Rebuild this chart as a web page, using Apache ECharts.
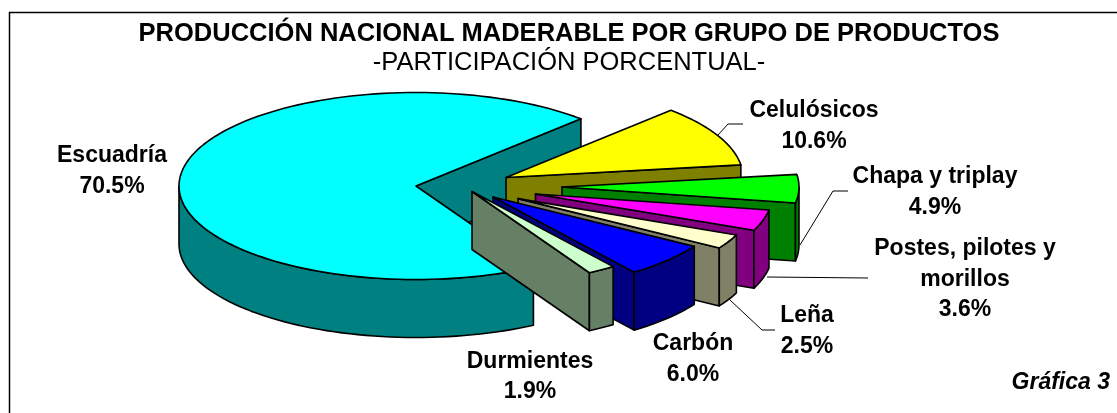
<!DOCTYPE html>
<html>
<head>
<meta charset="utf-8">
<style>html,body{margin:0;padding:0;background:#fff}#c{width:1117px;height:413px}</style>
<script src="https://cdn.jsdelivr.net/npm/echarts@6/dist/echarts.min.js"></script>
</head>
<body>
<div id="c"></div>
<script>
// ---- data ----
var categories = ['Escuadría','Celulósicos','Chapa y triplay','Postes, pilotes y\nmorillos','Leña','Carbón','Durmientes'];
var shares = [70.5,10.6,4.9,3.6,2.5,6.0,1.9];
var titleText = 'PRODUCCIÓN NACIONAL MADERABLE POR GRUPO DE PRODUCTOS';
var subtitleText = '-PARTICIPACIÓN PORCENTUAL-';
var noteText = 'Gráfica 3';

// ---- styling and layout of the exploded 3D pie ----
var topColors  = ['#00FFFF','#FFFF00','#00FF00','#FF00FF','#FFFFCC','#0000FF','#CCFFCC'];
var sideColors = ['#008080','#808000','#008000','#800080','#808066','#000080','#668066'];
var explodeX = [0,90,146,119.5,102,77,56];
var explodeY = [0,-8.5,1,8,12.6,11,5.5];
var labelX = [112,814,935,965,807,693,530];
var labelY = [171,126,192,279.5,331,359,376.5];
var leaders = [null,[[718,135],[728,124],[743,124]],[[800,245],[833,191],[848,191]],[[767,277],[868,278]],[[730,300],[762,330],[775,330]],null,null];
var pie = {cx:416, cy:186, rx:237, ry:93.5, depth:58, start:60.3};

function project(deg, ox, oy){
  var a = deg*Math.PI/180;
  return [pie.cx + ox + pie.rx*Math.cos(a), pie.cy + oy + pie.ry*Math.sin(a)];
}
function down(p){ return [p[0], p[1]+pie.depth]; }
function arc(a0,a1,ox,oy){
  var pts=[], n=Math.max(2,Math.ceil((a1-a0)/2));
  for(var i=0;i<=n;i++) pts.push(project(a0+(a1-a0)*i/n,ox,oy));
  return pts;
}
var total = shares.reduce(function(p,v){return p+v;},0);
var stroke = {stroke:'#000',lineWidth:1.6,lineJoin:'round'};
function poly(pts,fill){
  return {type:'polygon',shape:{points:pts},style:Object.assign({fill:fill},stroke)};
}
function renderSlice(params,api){
  var i = params.dataIndex, before = 0;
  for(var k=0;k<i;k++) before += shares[k];
  var a0 = pie.start + before/total*360;
  var a1 = a0 + api.value(0)/total*360;
  if(a0>=180){ a0-=360; a1-=360; }
  var ox = explodeX[i], oy = explodeY[i];
  var tip = [pie.cx+ox, pie.cy+oy];
  var kids = [];
  // side wall at the end of the sweep
  var endP = project(a1,ox,oy);
  kids.push(poly([tip,endP,down(endP),down(tip)],sideColors[i]));
  // outer wall: only the part of the rim that faces the viewer
  var f0 = Math.max(a0,0), f1 = Math.min(a1,180);
  if(f1>f0){
    var rim = arc(f0,f1,ox,oy);
    kids.push(poly(rim.concat(rim.slice().reverse().map(down)),sideColors[i]));
  }
  // top face
  kids.push(poly([tip].concat(arc(a0,a1,ox,oy)),topColors[i]));
  // leader line
  if(leaders[i]){
    kids.push({type:'polyline',shape:{points:leaders[i]},style:{fill:null,stroke:'#000',lineWidth:1}});
  }
  // label
  kids.push({type:'text',style:{
    x:labelX[i],y:labelY[i],text:categories[i]+'\n'+api.value(0).toFixed(1)+'%',
    font:'bold 23px "Liberation Sans", Arial, sans-serif',fill:'#000',
    align:'center',verticalAlign:'middle',lineHeight:30.5
  }});
  return {type:'group',children:kids};
}
var chart = echarts.init(document.getElementById('c'),null,{renderer:'canvas'});
chart.setOption({
  animation:false,
  backgroundColor:'#fff',
  graphic:[
    {type:'polyline',shape:{points:[[9.5,413],[9.5,12.5],[1117,12.5]]},style:{fill:null,stroke:'#000',lineWidth:1.5}},
    {type:'text',style:{x:1110,y:383,text:noteText,font:'italic bold 23px "Liberation Sans", Arial, sans-serif',fill:'#000',align:'right',verticalAlign:'middle'}}
  ],
  title:{
    text:titleText, subtext:subtitleText, left:564, top:16, textAlign:'center', itemGap:3,
    textStyle:{fontFamily:'Liberation Sans',fontWeight:'bold',fontSize:25.5,color:'#000'},
    subtextStyle:{fontFamily:'Liberation Sans',fontWeight:'normal',fontSize:25.5,color:'#000'}
  },
  series:[{
    type:'custom', coordinateSystem:'none', renderItem:renderSlice,
    data:shares.map(function(v,i){return {name:categories[i],value:[v]};}),
    silent:true
  }]
});
</script>
</body>
</html>
